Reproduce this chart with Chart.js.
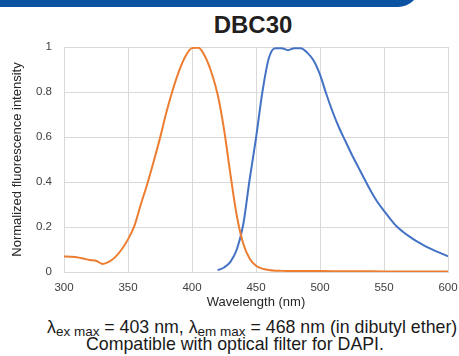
<!DOCTYPE html>
<html>
<head>
<meta charset="utf-8">
<script src="https://cdn.jsdelivr.net/npm/chart.js@4/dist/chart.umd.min.js"></script>
<style>
  body { margin: 0; width: 459px; height: 356px; overflow: hidden; background: #fff; position: relative;
         font-family: 'Liberation Sans', Arial, sans-serif; }
  #banner { position: absolute; left: 0; top: -22px; width: 420px; height: 29px; background: #0b52a3;
            border-bottom-right-radius: 22px; }
  #title { position: absolute; left: 0; width: 506px; top: 13px; text-align: center; font-size: 24px;
           font-weight: bold; color: #231f20; line-height: 24px; }
  #chartBox { position: absolute; left: 0; top: 0; width: 459px; height: 312px; }
  .note { position: absolute; font-size: 17.75px; line-height: 17.75px; color: #1a1a1a; white-space: nowrap; }
  .note sub { font-size: 13.5px; vertical-align: -3px; line-height: 0; }
</style>
</head>
<body>
<div id="banner"></div>
<div id="title">DBC30</div>
<div id="chartBox"><canvas id="chart"></canvas></div>
<div class="note" style="left:47px; top:319px;">λ<sub>ex max</sub> = 403 nm, λ<sub>em max</sub> = 468 nm (in dibutyl ether)</div>
<div class="note" style="left:86px; top:336px;">Compatible with optical filter for DAPI.</div>
<script>
// excitation spectrum, 300-600 nm
const exWave = [300, 305, 310, 315, 320, 325, 330, 335, 340, 345, 350, 355, 360, 365, 370, 375, 380, 385, 390, 395,
                400, 405, 410, 415, 420, 425, 430, 435, 440, 445, 450, 455, 460, 465, 470, 480, 500, 520, 540, 560, 580, 600];
const exValues = [0.069, 0.068, 0.066, 0.060, 0.053, 0.050, 0.036, 0.045, 0.066, 0.100, 0.145, 0.205, 0.300, 0.390,
                  0.490, 0.595, 0.710, 0.810, 0.895, 0.960, 0.995, 0.997, 0.960, 0.890, 0.790, 0.635, 0.435, 0.250,
                  0.127, 0.060, 0.028, 0.015, 0.009, 0.006, 0.005, 0.004, 0.004, 0.003, 0.003, 0.002, 0.002, 0.002];

// emission spectrum, 420-600 nm
const emWave = [420, 425, 430, 435, 440, 445, 450, 455, 460, 465, 470, 475, 480, 485, 490, 495, 500, 505, 510, 515,
                520, 525, 530, 535, 540, 545, 550, 555, 560, 565, 570, 575, 580, 585, 590, 595, 600];
const emValues = [0.008, 0.020, 0.045, 0.100, 0.210, 0.410, 0.595, 0.800, 0.950, 0.995, 0.995, 0.986, 0.995, 0.995,
                  0.975, 0.940, 0.877, 0.790, 0.710, 0.640, 0.580, 0.520, 0.465, 0.410, 0.357, 0.310, 0.272, 0.235,
                  0.202, 0.178, 0.157, 0.138, 0.122, 0.107, 0.094, 0.082, 0.070];

const xTicks = [300, 350, 400, 450, 500, 550, 600];
const yTicks = [0, 0.2, 0.4, 0.6, 0.8, 1];
const yTickLabels = ['0', '0.2', '0.4', '0.6', '0.8', '1'];

Chart.defaults.font.family = "'Liberation Sans', Arial, sans-serif";
Chart.defaults.color = '#404040';

const ctx = document.getElementById('chart').getContext('2d');
new Chart(ctx, {
    type: 'line',
    data: {
        datasets: [{
            label: 'Excitation',
            data: exWave.map((w, i) => ({ x: w, y: exValues[i] })),
            borderColor: '#ed7d31',
            borderWidth: 2,
            pointRadius: 0,
            cubicInterpolationMode: 'monotone',
            fill: false
        }, {
            label: 'Emission',
            data: emWave.map((w, i) => ({ x: w, y: emValues[i] })),
            borderColor: '#4472c4',
            borderWidth: 2,
            pointRadius: 0,
            cubicInterpolationMode: 'monotone',
            fill: false
        }]
    },
    options: {
        responsive: true,
        maintainAspectRatio: false,
        animation: false,
        layout: { padding: { top: 47, right: 11, bottom: 0, left: 0 } },
        plugins: {
            legend: { display: false },
            tooltip: { enabled: false }
        },
        scales: {
            x: {
                type: 'linear',
                min: 300,
                max: 600,
                afterBuildTicks: scale => { scale.ticks = xTicks.map(v => ({ value: v })); },
                afterFit: scale => {
                    scale.height = 40;
                    scale.paddingLeft = 0;
                    scale.paddingRight = 0;
                },
                ticks: { padding: 9, font: { size: 11.5 }, color: '#404040', maxRotation: 0 },
                grid: { color: '#d9d9d9', drawTicks: false },
                border: { color: '#d9d9d9' },
                title: {
                    display: true,
                    text: 'Wavelength (nm)',
                    font: { size: 13 },
                    color: '#262626',
                    padding: { top: 0, bottom: 2 }
                }
            },
            y: {
                min: 0,
                max: 1,
                afterBuildTicks: scale => { scale.ticks = yTicks.map(v => ({ value: v })); },
                afterFit: scale => { scale.width = 64; },
                ticks: {
                    padding: 12,
                    font: { size: 11.5 },
                    color: '#404040',
                    callback: (value, index) => yTickLabels[index]
                },
                grid: { color: '#d9d9d9', drawTicks: false },
                border: { color: '#d9d9d9' },
                title: {
                    display: true,
                    text: 'Normalized fluorescence intensity',
                    font: { size: 13 },
                    color: '#262626',
                    padding: { top: 10, bottom: 0 }
                }
            }
        }
    }
});
</script>
</body>
</html>
